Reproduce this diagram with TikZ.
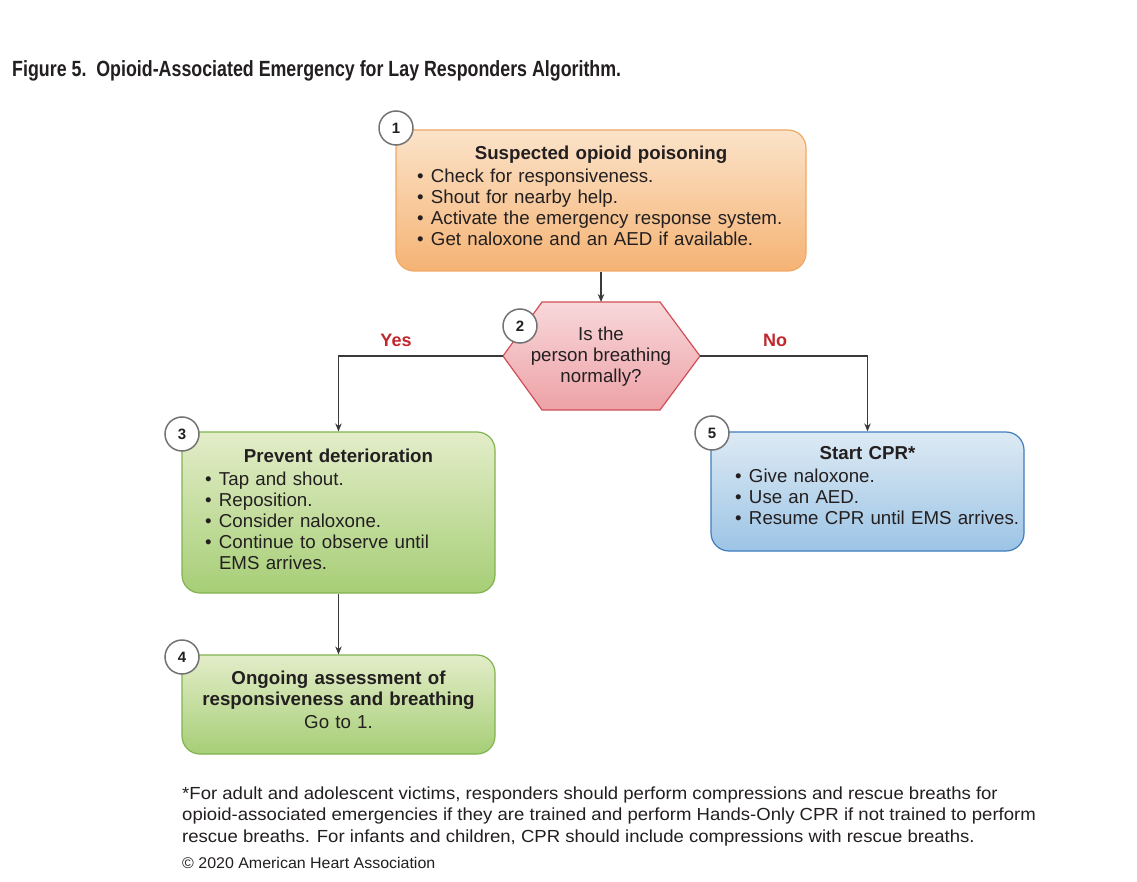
\documentclass[tikz,border=0pt]{standalone}
\usepackage{fontspec}
\setmainfont{Liberation Sans}
\newfontfamily\titlefont[FakeStretch=0.81]{Liberation Sans}
\newfontfamily\notefont[FakeStretch=1.06]{Liberation Sans}
\newfontfamily\copyfont[FakeStretch=1.03]{Liberation Sans}
\usetikzlibrary{arrows.meta}
\definecolor{orTop}{HTML}{FBE3C9}
\definecolor{orBot}{HTML}{F5B374}
\definecolor{orLine}{HTML}{F0A865}
\definecolor{grTop}{HTML}{E3EDC9}
\definecolor{grBot}{HTML}{A6CE76}
\definecolor{grLine}{HTML}{82B350}
\definecolor{blTop}{HTML}{DDEAF4}
\definecolor{blBot}{HTML}{9CC4E5}
\definecolor{blLine}{HTML}{3F7DBD}
\definecolor{pkTop}{HTML}{F8D8DA}
\definecolor{pkBot}{HTML}{EDA2A7}
\definecolor{pkLine}{HTML}{D04E58}
\definecolor{ahaRed}{HTML}{C1272D}
\definecolor{conn}{HTML}{3A3A3A}
\definecolor{txt}{HTML}{231F20}
\newcommand{\bul}{\makebox[14pt][l]{\textbullet}}
\newcommand{\bulsp}{\makebox[14pt][l]{}}
\begin{document}
\begin{tikzpicture}[x=1pt,y=-1pt,
  every node/.style={text=txt},
  body/.style={font=\fontsize{18.7}{21}\selectfont},
  flowbox/.style={draw, line width=1.2pt, rounded corners=18pt, body, align=left},
  orangebox/.style={flowbox, draw=orLine, top color=orTop, bottom color=orBot},
  greenbox/.style={flowbox, draw=grLine, top color=grTop, bottom color=grBot},
  bluebox/.style={flowbox, draw=blLine, top color=blTop, bottom color=blBot},
  numcirc/.style={circle, draw=black!55, line width=1.5pt, fill=white, minimum size=34pt, inner sep=0pt, font=\bfseries\fontsize{15}{15}\selectfont},
  conline/.style={draw=conn, line width=1.3pt},
  arr/.style={conline, -{Stealth[length=8pt,width=6.5pt]}},
  answer/.style={text=ahaRed, font=\bfseries\fontsize{18}{18}\selectfont},
  note/.style={anchor=base west, inner sep=0pt, font=\notefont\fontsize{17.5}{21}\selectfont}
]
\useasboundingbox[fill=white] (0,0) rectangle (1137,882);

% title
\node[anchor=base west, inner sep=0pt, font=\titlefont\bfseries\fontsize{22}{22}\selectfont] (title) at (12,77)
  {Figure 5.\ \ Opioid-Associated Emergency for Lay Responders Algorithm.};

% box 1
\node[orangebox, inner xsep=21pt, text width=368pt, minimum height=141pt] (b1) at (601,200.5)
  {\makebox[\linewidth]{\bfseries Suspected opioid poisoning}\\[2pt]
   \bul Check for responsiveness.\\
   \bul Shout for nearby help.\\
   \bul Activate the emergency response system.\\
   \bul Get naloxone and an AED if available.\par\vspace*{9pt}};
\node[numcirc] (c1) at (396,128) {1};

% hexagon
\coordinate (hN) at (601,302);
\coordinate (hW) at (503,356);
\coordinate (hE) at (700,356);
\draw[draw=pkLine, line width=1.2pt, top color=pkTop, bottom color=pkBot]
  (542,302) -- (660,302) -- (hE) -- (660,410) -- (542,410) -- (hW) -- cycle;
\node[body, align=center] (q) at (601,357) {Is the\\person breathing\\normally?};
\node[numcirc] (c2) at (520,326) {2};

% box 3
\node[greenbox, inner xsep=23pt, text width=267pt, minimum height=161pt] (b3) at (338.5,512.5)
  {\makebox[\linewidth]{\bfseries Prevent deterioration}\\[2pt]
   \bul Tap and shout.\\
   \bul Reposition.\\
   \bul Consider naloxone.\\
   \bul Continue to observe until\\
   \bulsp EMS arrives.\par\vspace*{6pt}};
\node[numcirc] (c3) at (182,434) {3};

% box 5
\node[bluebox, inner xsep=10pt, text width=293pt, minimum height=119pt] (b5) at (867.5,491.5)
  {\makebox[\linewidth]{\bfseries Start CPR*}\\[2pt]
   \mbox{\hspace*{14pt}\bul Give naloxone.}\\
   \mbox{\hspace*{14pt}\bul Use an AED.}\\
   \mbox{\hspace*{14pt}\bul Resume CPR until EMS arrives.}\par\vspace*{12pt}};
\node[numcirc] (c5) at (712,433) {5};

% box 4
\node[greenbox, align=center, text width=290pt, inner xsep=11.5pt, minimum height=99pt] (b4) at (338.5,704.5)
  {{\bfseries Ongoing assessment of\\responsiveness and breathing}\\[2pt]
   Go to 1.\par\vspace*{9pt}};
\node[numcirc] (c4) at (182,657) {4};

% connectors
\draw[arr] (b1.south) -- (hN);
\draw[arr] (hW) -| (b3.north);
\draw[arr] (hE) -| (b5.north);
\draw[arr] (b3.south) -- (b4.north);
\node[answer] (yes) at (396,340) {Yes};
\node[answer] (no) at (775,340) {No};

% footnote
\node[note] (n1) at (182,799) {*For adult and adolescent victims, responders should perform compressions and rescue breaths for};
\node[note] (n2) at (182,820) {opioid-associated emergencies if they are trained and perform Hands-Only CPR if not trained to perform};
\node[note] (n3) at (182,842) {rescue breaths. For infants and children, CPR should include compressions with rescue breaths.};
\node[anchor=base west, inner sep=0pt, font=\copyfont\fontsize{15.5}{18}\selectfont] (copy) at (182,868) {\textcopyright\ 2020 American Heart Association};
\end{tikzpicture}
\end{document}
